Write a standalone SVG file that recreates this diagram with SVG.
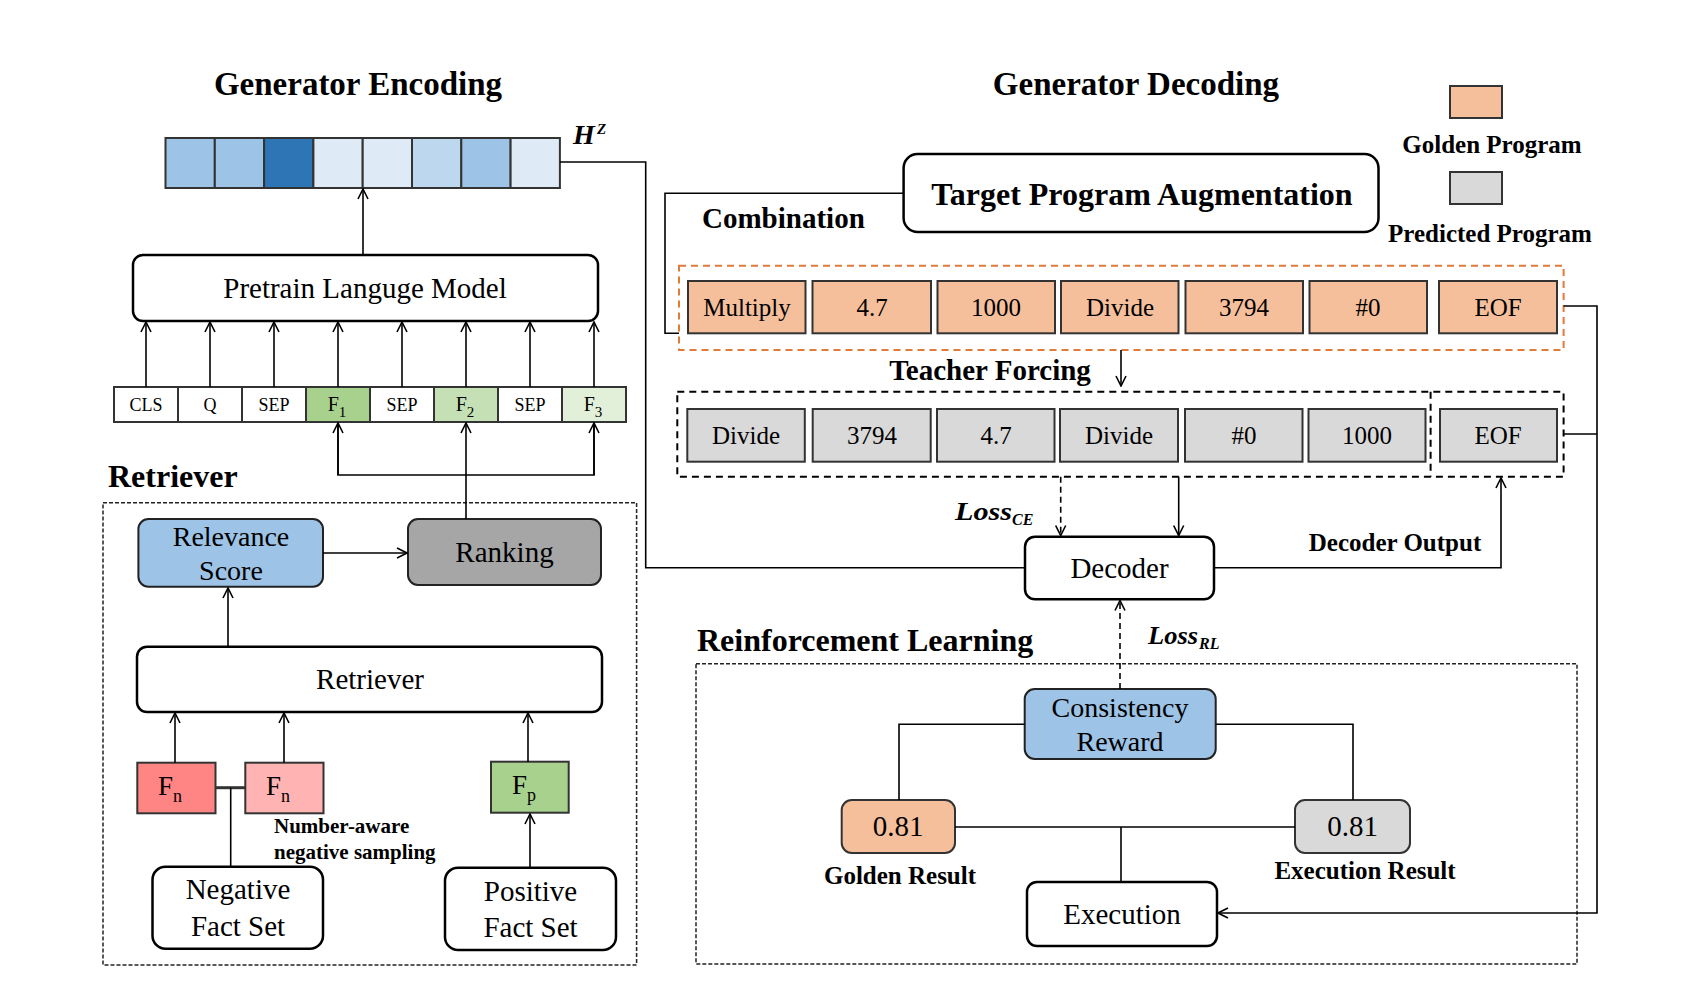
<svg xmlns="http://www.w3.org/2000/svg" width="1703" height="1002" viewBox="0 0 1703 1002">
<style>
text{font-family:"Liberation Serif","Times New Roman",serif;fill:#000}
.t{font-size:33px;font-weight:bold}
.lb{font-size:29px;font-weight:bold}
.sb{font-size:25px;font-weight:bold}
.nb{font-size:29px;text-anchor:middle}
.cell{font-size:25px;text-anchor:middle}
.tok{font-size:18px;text-anchor:middle}
.rb{fill:#fff;stroke:#000;stroke-width:2.5}
.line{fill:none;stroke:#000;stroke-width:1.6}
.dash{fill:none;stroke:#000;stroke-width:1.6;stroke-dasharray:6,4}
.org{fill:#f5bf9b;stroke:#333;stroke-width:2}
.gry{fill:#d9d9d9;stroke:#333;stroke-width:2}
.blu{fill:#9dc3e6;stroke:#222;stroke-width:2}
.hc{stroke:#333;stroke-width:2}
.it{font-style:italic;font-weight:bold}
</style>
<defs>
<marker id="a" viewBox="0 0 12 12" refX="11" refY="6" markerWidth="12" markerHeight="12" markerUnits="userSpaceOnUse" orient="auto">
<path d="M1,1 L11,6 L1,11" fill="none" stroke="#000" stroke-width="1.6"/>
</marker>
</defs>
<rect width="1703" height="1002" fill="#fff"/>

<!-- titles -->
<text class="t" x="358" y="95" text-anchor="middle">Generator Encoding</text>
<text class="t" x="1136" y="95" text-anchor="middle">Generator Decoding</text>
<text class="lb" x="108" y="487" style="font-size:32px">Retriever</text>
<text class="lb" x="697" y="651" style="font-size:32px">Reinforcement Learning</text>
<text class="lb" x="702" y="228">Combination</text>
<text class="lb" x="990" y="380" text-anchor="middle">Teacher Forcing</text>
<text class="sb" x="1395" y="551" text-anchor="middle">Decoder Output</text>
<text class="sb" x="900" y="884" text-anchor="middle">Golden Result</text>
<text class="sb" x="1365" y="879" text-anchor="middle">Execution Result</text>
<text class="sb" x="274" y="833" style="font-size:21px">Number-aware</text>
<text class="sb" x="274" y="859" style="font-size:21px">negative sampling</text>
<text class="it" x="573" y="144" style="font-size:28px">H</text>
<text class="it" x="597" y="134" style="font-size:15px">Z</text>
<text class="it" x="955" y="520" style="font-size:25px" textLength="57" lengthAdjust="spacingAndGlyphs">Loss</text>
<text class="it" x="1012" y="525" style="font-size:16px">CE</text>
<text class="it" x="1148" y="644" style="font-size:25px" textLength="50" lengthAdjust="spacingAndGlyphs">Loss</text>
<text class="it" x="1199" y="649" style="font-size:16px">RL</text>

<!-- legend -->
<g id="legend">
<rect x="1450" y="86" width="52" height="32" class="org"/>
<text class="sb" x="1492" y="153" text-anchor="middle">Golden Program</text>
<rect x="1450" y="172" width="52" height="32" class="gry"/>
<text class="sb" x="1490" y="242" text-anchor="middle">Predicted Program</text>
</g>

<!-- hidden states -->
<g id="hz">
<rect x="165.5" y="138" width="49.3" height="50" fill="#9dc3e6" class="hc"/>
<rect x="214.8" y="138" width="49.3" height="50" fill="#9dc3e6" class="hc"/>
<rect x="264.1" y="138" width="49.3" height="50" fill="#2e75b6" class="hc"/>
<rect x="313.4" y="138" width="49.3" height="50" fill="#deebf7" class="hc"/>
<rect x="362.7" y="138" width="49.3" height="50" fill="#deebf7" class="hc"/>
<rect x="412" y="138" width="49.3" height="50" fill="#bdd7ee" class="hc"/>
<rect x="461.3" y="138" width="49.3" height="50" fill="#9dc3e6" class="hc"/>
<rect x="510.6" y="138" width="49.3" height="50" fill="#deebf7" class="hc"/>
</g>

<g id="plm">
<rect x="133" y="255" width="465" height="66" rx="10" class="rb"/>
<text class="nb" x="365" y="298">Pretrain Languge Model</text>
</g>

<g id="tokens">
<rect x="114" y="387" width="64" height="35" fill="#fff" class="hc"/>
<rect x="178" y="387" width="64" height="35" fill="#fff" class="hc"/>
<rect x="242" y="387" width="64" height="35" fill="#fff" class="hc"/>
<rect x="306" y="387" width="64" height="35" fill="#a9d18e" class="hc"/>
<rect x="370" y="387" width="64" height="35" fill="#fff" class="hc"/>
<rect x="434" y="387" width="64" height="35" fill="#c5e0b4" class="hc"/>
<rect x="498" y="387" width="64" height="35" fill="#fff" class="hc"/>
<rect x="562" y="387" width="64" height="35" fill="#e2f0d9" class="hc"/>
<text class="tok" x="146" y="411">CLS</text>
<text class="tok" x="210" y="411">Q</text>
<text class="tok" x="274" y="411">SEP</text>
<text class="tok" x="337" y="411" style="font-size:20px">F<tspan font-size="15" dy="6">1</tspan></text>
<text class="tok" x="402" y="411">SEP</text>
<text class="tok" x="465" y="411" style="font-size:20px">F<tspan font-size="15" dy="6">2</tspan></text>
<text class="tok" x="530" y="411">SEP</text>
<text class="tok" x="593" y="411" style="font-size:20px">F<tspan font-size="15" dy="6">3</tspan></text>
</g>

<g id="relevance">
<rect x="138.4" y="519" width="184.6" height="67.7" rx="10" class="blu"/>
<text class="nb" x="231" y="546" style="font-size:28px">Relevance</text>
<text class="nb" x="231" y="580" style="font-size:28px">Score</text>
</g>
<g id="ranking">
<rect x="408" y="519" width="193" height="66" rx="10" fill="#a6a6a6" stroke="#222" stroke-width="2"/>
<text class="nb" x="504.5" y="562">Ranking</text>
</g>
<g id="retriever">
<rect x="137" y="646.7" width="465" height="65.3" rx="10" class="rb"/>
<text class="nb" x="370" y="689">Retriever</text>
</g>
<g id="fn1">
<rect x="137.3" y="762.7" width="78.2" height="50.6" fill="#ff8585" class="hc" stroke="#111"/>
<text class="nb" x="170" y="795" style="font-size:27px">F<tspan font-size="18" dy="7">n</tspan></text>
</g>
<g id="fn2">
<rect x="245.3" y="762.7" width="78.2" height="50.6" fill="#ffb3b3" class="hc" stroke="#111"/>
<text class="nb" x="278" y="795" style="font-size:27px">F<tspan font-size="18" dy="7">n</tspan></text>
</g>
<g id="fp">
<rect x="491" y="761.7" width="77.7" height="51" fill="#a9d18e" class="hc" stroke="#111"/>
<text class="nb" x="524" y="794" style="font-size:27px">F<tspan font-size="18" dy="7">p</tspan></text>
</g>
<g id="negset">
<rect x="152.5" y="866.7" width="170.5" height="82" rx="13" class="rb" stroke-width="2"/>
<text class="nb" x="238" y="899">Negative</text>
<text class="nb" x="238" y="936">Fact Set</text>
</g>
<g id="posset">
<rect x="445" y="867.7" width="171" height="82.3" rx="13" class="rb" stroke-width="2"/>
<text class="nb" x="530.5" y="901">Positive</text>
<text class="nb" x="530.5" y="937">Fact Set</text>
</g>

<g id="tpa">
<rect x="903.6" y="154" width="474.9" height="78" rx="14" class="rb"/>
<text x="1142" y="205" text-anchor="middle" style="font-size:32px;font-weight:bold">Target Program Augmentation</text>
</g>

<g id="golden">
<rect x="688" y="281" width="117.5" height="52.3" class="org"/>
<rect x="812.5" y="281" width="118.5" height="52.3" class="org"/>
<rect x="937.5" y="281" width="117.5" height="52.3" class="org"/>
<rect x="1061" y="281" width="117.5" height="52.3" class="org"/>
<rect x="1185.5" y="281" width="117.5" height="52.3" class="org"/>
<rect x="1309.5" y="281" width="117.5" height="52.3" class="org"/>
<rect x="1439" y="281" width="118" height="52.3" class="org"/>
<text class="cell" x="747" y="316">Multiply</text>
<text class="cell" x="872" y="316">4.7</text>
<text class="cell" x="996" y="316">1000</text>
<text class="cell" x="1120" y="316">Divide</text>
<text class="cell" x="1244" y="316">3794</text>
<text class="cell" x="1368" y="316">#0</text>
<text class="cell" x="1498" y="316">EOF</text>
</g>

<g id="predicted">
<rect x="687.3" y="409" width="117.5" height="52.7" class="gry"/>
<rect x="812.7" y="409" width="118" height="52.7" class="gry"/>
<rect x="937" y="409" width="117.5" height="52.7" class="gry"/>
<rect x="1060" y="409" width="118" height="52.7" class="gry"/>
<rect x="1185" y="409" width="117.5" height="52.7" class="gry"/>
<rect x="1308.5" y="409" width="117" height="52.7" class="gry"/>
<rect x="1440" y="409" width="117" height="52.7" class="gry"/>
<text class="cell" x="746" y="444">Divide</text>
<text class="cell" x="872" y="444">3794</text>
<text class="cell" x="996" y="444">4.7</text>
<text class="cell" x="1119" y="444">Divide</text>
<text class="cell" x="1244" y="444">#0</text>
<text class="cell" x="1367" y="444">1000</text>
<text class="cell" x="1498" y="444">EOF</text>
</g>

<g id="decoder">
<rect x="1025" y="536.7" width="189" height="62.6" rx="10" class="rb" stroke-width="2"/>
<text class="nb" x="1119.5" y="578">Decoder</text>
</g>
<g id="consistency">
<rect x="1024.7" y="689" width="191" height="70" rx="10" class="blu"/>
<text class="nb" x="1120" y="717" style="font-size:28px">Consistency</text>
<text class="nb" x="1120" y="751" style="font-size:28px">Reward</text>
</g>
<g id="goldres">
<rect x="841.7" y="800" width="113.3" height="53" rx="10" class="org"/>
<text class="nb" x="898" y="836">0.81</text>
</g>
<g id="execres">
<rect x="1295" y="800" width="115" height="53" rx="10" class="gry"/>
<text class="nb" x="1352.5" y="836">0.81</text>
</g>
<g id="execution">
<rect x="1027" y="882" width="190" height="64" rx="10" class="rb" stroke-width="2"/>
<text class="nb" x="1122" y="924">Execution</text>
</g>

<!-- groups / dashed frames -->
<g id="frames">
<rect x="103" y="502.7" width="533.6" height="462.3" fill="none" stroke="#222" stroke-width="1.5" stroke-dasharray="4,2"/>
<rect x="696" y="663.7" width="881" height="300.3" fill="none" stroke="#222" stroke-width="1.5" stroke-dasharray="4,2"/>
<rect x="679" y="265.7" width="884.6" height="84.3" fill="none" stroke="#e07b39" stroke-width="2" stroke-dasharray="7,5"/>
<rect x="677.3" y="391.7" width="886.3" height="85" fill="none" stroke="#000" stroke-width="2" stroke-dasharray="7,5"/>
<line x1="1430.6" y1="391.7" x2="1430.6" y2="476.7" stroke="#000" stroke-width="2" stroke-dasharray="7,5"/>
</g>

<g id="connectors">
<line class="line" x1="363" y1="255" x2="363" y2="189" marker-end="url(#a)"/>
<line class="line" x1="146" y1="387" x2="146" y2="322" marker-end="url(#a)"/>
<line class="line" x1="210" y1="387" x2="210" y2="322" marker-end="url(#a)"/>
<line class="line" x1="274" y1="387" x2="274" y2="322" marker-end="url(#a)"/>
<line class="line" x1="338" y1="387" x2="338" y2="322" marker-end="url(#a)"/>
<line class="line" x1="402" y1="387" x2="402" y2="322" marker-end="url(#a)"/>
<line class="line" x1="466" y1="387" x2="466" y2="322" marker-end="url(#a)"/>
<line class="line" x1="530" y1="387" x2="530" y2="322" marker-end="url(#a)"/>
<line class="line" x1="594" y1="387" x2="594" y2="322" marker-end="url(#a)"/>
<polyline class="line" points="338,423 338,475 594,475 594,423"/>
<line class="line" x1="338" y1="475" x2="338" y2="423" marker-end="url(#a)"/>
<line class="line" x1="594" y1="475" x2="594" y2="423" marker-end="url(#a)"/>
<line class="line" x1="466" y1="519" x2="466" y2="423" marker-end="url(#a)"/>
<line class="line" x1="323" y1="553" x2="407" y2="553" marker-end="url(#a)"/>
<line class="line" x1="228" y1="646.7" x2="228" y2="588" marker-end="url(#a)"/>
<line class="line" x1="175" y1="762.7" x2="175" y2="713" marker-end="url(#a)"/>
<line class="line" x1="284" y1="762.7" x2="284" y2="713" marker-end="url(#a)"/>
<line class="line" x1="528" y1="761.7" x2="528" y2="713" marker-end="url(#a)"/>
<line class="line" x1="530" y1="867.7" x2="530" y2="814" marker-end="url(#a)"/>
<line x1="215.5" y1="787.7" x2="245.3" y2="787.7" stroke="#333" stroke-width="3"/>
<line class="line" x1="230.7" y1="787.7" x2="230.7" y2="866.7"/>
<polyline class="line" points="560,162 645.7,162 645.7,567.7 1025,567.7"/>
<polyline class="line" points="903.6,193.3 665,193.3 665,333.3 679,333.3"/>
<line class="line" x1="1121" y1="350" x2="1121" y2="386" marker-end="url(#a)"/>
<polyline class="line" points="1563.6,306 1597,306 1597,913 1218,913" marker-end="url(#a)"/>
<line class="line" x1="1563.6" y1="434" x2="1597" y2="434"/>
<line class="dash" x1="1060.7" y1="476.7" x2="1060.7" y2="535.5" marker-end="url(#a)"/>
<line class="line" x1="1178.7" y1="476.7" x2="1178.7" y2="535.5" marker-end="url(#a)"/>
<polyline class="line" points="1214,567.7 1501,567.7 1501,478" marker-end="url(#a)"/>
<line class="dash" x1="1120" y1="689" x2="1120" y2="600.5" marker-end="url(#a)"/>
<polyline class="line" points="1024.7,724.3 899,724.3 899,800"/>
<polyline class="line" points="1215.7,724.3 1353,724.3 1353,800"/>
<line class="line" x1="955" y1="827" x2="1295" y2="827"/>
<line class="line" x1="1121" y1="827" x2="1121" y2="882"/>
</g>
</svg>
